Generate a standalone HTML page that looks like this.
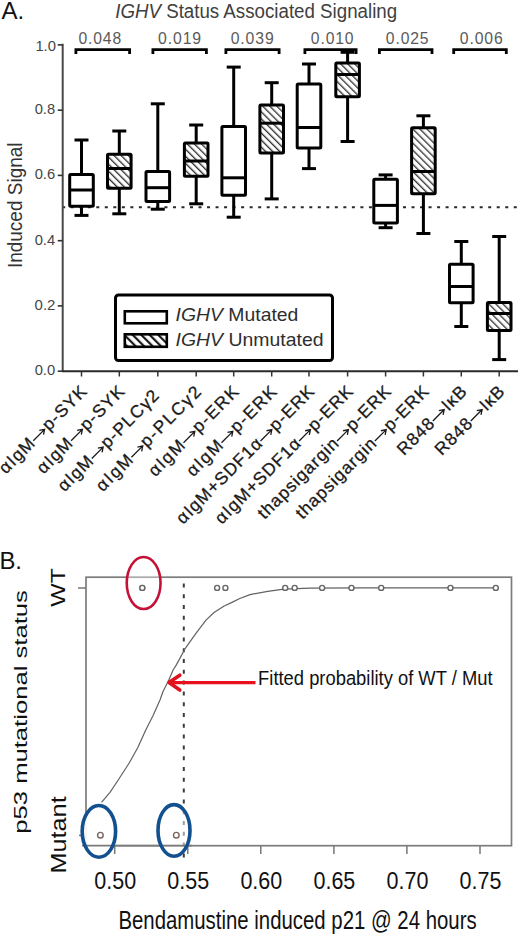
<!DOCTYPE html>
<html><head><meta charset="utf-8"><style>
html,body{margin:0;padding:0;background:#fff;}
svg{display:block;}
text{font-family:"Liberation Sans",sans-serif;}
</style></head><body>
<svg width="520" height="936" viewBox="0 0 520 936">
<rect width="520" height="936" fill="#fff"/>
<defs><pattern id="hat" patternUnits="userSpaceOnUse" width="5" height="5" patternTransform="rotate(-45)"><rect x="0" y="0" width="1.35" height="5" fill="#333"/></pattern><pattern id="hat2" patternUnits="userSpaceOnUse" width="6" height="6" patternTransform="rotate(-45)"><rect x="0" y="0" width="2.2" height="6" fill="#1a1a1a"/></pattern></defs>
<line x1="62.2" y1="207.2" x2="520" y2="207.2" stroke="#2a2a2a" stroke-width="2" stroke-dasharray="3 5.52"/>
<line x1="62.7" y1="43.8" x2="62.7" y2="372" stroke="#484848" stroke-width="2"/>
<line x1="62" y1="371.2" x2="518" y2="371.2" stroke="#2a2a2a" stroke-width="2"/>
<line x1="57.7" y1="371.2" x2="62.7" y2="371.2" stroke="#333" stroke-width="1.6"/>
<line x1="57.7" y1="305.9" x2="62.7" y2="305.9" stroke="#333" stroke-width="1.6"/>
<line x1="57.7" y1="240.7" x2="62.7" y2="240.7" stroke="#333" stroke-width="1.6"/>
<line x1="57.7" y1="175.4" x2="62.7" y2="175.4" stroke="#333" stroke-width="1.6"/>
<line x1="57.7" y1="110.2" x2="62.7" y2="110.2" stroke="#333" stroke-width="1.6"/>
<line x1="57.7" y1="44.9" x2="62.7" y2="44.9" stroke="#333" stroke-width="1.6"/>
<line x1="81.5" y1="371" x2="81.5" y2="376.5" stroke="#333" stroke-width="1.5"/>
<line x1="119.3" y1="371" x2="119.3" y2="376.5" stroke="#333" stroke-width="1.5"/>
<line x1="157.8" y1="371" x2="157.8" y2="376.5" stroke="#333" stroke-width="1.5"/>
<line x1="196.2" y1="371" x2="196.2" y2="376.5" stroke="#333" stroke-width="1.5"/>
<line x1="233.7" y1="371" x2="233.7" y2="376.5" stroke="#333" stroke-width="1.5"/>
<line x1="271.7" y1="371" x2="271.7" y2="376.5" stroke="#333" stroke-width="1.5"/>
<line x1="309.0" y1="371" x2="309.0" y2="376.5" stroke="#333" stroke-width="1.5"/>
<line x1="347.6" y1="371" x2="347.6" y2="376.5" stroke="#333" stroke-width="1.5"/>
<line x1="385.6" y1="371" x2="385.6" y2="376.5" stroke="#333" stroke-width="1.5"/>
<line x1="423.4" y1="371" x2="423.4" y2="376.5" stroke="#333" stroke-width="1.5"/>
<line x1="461.3" y1="371" x2="461.3" y2="376.5" stroke="#333" stroke-width="1.5"/>
<line x1="499.2" y1="371" x2="499.2" y2="376.5" stroke="#333" stroke-width="1.5"/>
<line x1="81.5" y1="140" x2="81.5" y2="174.6" stroke="#000" stroke-width="3.0"/>
<line x1="81.5" y1="206.2" x2="81.5" y2="215.4" stroke="#000" stroke-width="3.0"/>
<line x1="74.5" y1="140" x2="88.5" y2="140" stroke="#000" stroke-width="3.0"/>
<line x1="74.5" y1="215.4" x2="88.5" y2="215.4" stroke="#000" stroke-width="3.0"/>
<rect x="69.7" y="174.6" width="23.6" height="31.6" fill="#fff" stroke="#000" stroke-width="3.0" rx="1"/>
<line x1="69.7" y1="190" x2="93.3" y2="190" stroke="#000" stroke-width="3.0"/>
<line x1="119.3" y1="131" x2="119.3" y2="154.3" stroke="#000" stroke-width="3.0"/>
<line x1="119.3" y1="188.3" x2="119.3" y2="213.8" stroke="#000" stroke-width="3.0"/>
<line x1="112.3" y1="131" x2="126.3" y2="131" stroke="#000" stroke-width="3.0"/>
<line x1="112.3" y1="213.8" x2="126.3" y2="213.8" stroke="#000" stroke-width="3.0"/>
<rect x="107.5" y="154.3" width="23.6" height="34.0" fill="url(#hat)" stroke="#000" stroke-width="3.0" rx="1"/>
<line x1="107.5" y1="168.5" x2="131.1" y2="168.5" stroke="#000" stroke-width="3.0"/>
<line x1="157.8" y1="103.8" x2="157.8" y2="171.5" stroke="#000" stroke-width="3.0"/>
<line x1="157.8" y1="201.5" x2="157.8" y2="209.2" stroke="#000" stroke-width="3.0"/>
<line x1="150.8" y1="103.8" x2="164.8" y2="103.8" stroke="#000" stroke-width="3.0"/>
<line x1="150.8" y1="209.2" x2="164.8" y2="209.2" stroke="#000" stroke-width="3.0"/>
<rect x="146.0" y="171.5" width="23.6" height="30.0" fill="#fff" stroke="#000" stroke-width="3.0" rx="1"/>
<line x1="146.0" y1="187.7" x2="169.6" y2="187.7" stroke="#000" stroke-width="3.0"/>
<line x1="196.2" y1="125" x2="196.2" y2="143" stroke="#000" stroke-width="3.0"/>
<line x1="196.2" y1="176.2" x2="196.2" y2="203.8" stroke="#000" stroke-width="3.0"/>
<line x1="189.2" y1="125" x2="203.2" y2="125" stroke="#000" stroke-width="3.0"/>
<line x1="189.2" y1="203.8" x2="203.2" y2="203.8" stroke="#000" stroke-width="3.0"/>
<rect x="184.4" y="143" width="23.6" height="33.2" fill="url(#hat)" stroke="#000" stroke-width="3.0" rx="1"/>
<line x1="184.4" y1="161" x2="208.0" y2="161" stroke="#000" stroke-width="3.0"/>
<line x1="233.7" y1="67.1" x2="233.7" y2="126.4" stroke="#000" stroke-width="3.0"/>
<line x1="233.7" y1="195.2" x2="233.7" y2="217.2" stroke="#000" stroke-width="3.0"/>
<line x1="226.7" y1="67.1" x2="240.7" y2="67.1" stroke="#000" stroke-width="3.0"/>
<line x1="226.7" y1="217.2" x2="240.7" y2="217.2" stroke="#000" stroke-width="3.0"/>
<rect x="221.9" y="126.4" width="23.6" height="68.8" fill="#fff" stroke="#000" stroke-width="3.0" rx="1"/>
<line x1="221.9" y1="177.8" x2="245.5" y2="177.8" stroke="#000" stroke-width="3.0"/>
<line x1="271.7" y1="82.7" x2="271.7" y2="105.1" stroke="#000" stroke-width="3.0"/>
<line x1="271.7" y1="153.1" x2="271.7" y2="198.9" stroke="#000" stroke-width="3.0"/>
<line x1="264.7" y1="82.7" x2="278.7" y2="82.7" stroke="#000" stroke-width="3.0"/>
<line x1="264.7" y1="198.9" x2="278.7" y2="198.9" stroke="#000" stroke-width="3.0"/>
<rect x="259.9" y="105.1" width="23.6" height="48.0" fill="url(#hat)" stroke="#000" stroke-width="3.0" rx="1"/>
<line x1="259.9" y1="123.2" x2="283.5" y2="123.2" stroke="#000" stroke-width="3.0"/>
<line x1="309.0" y1="64" x2="309.0" y2="84" stroke="#000" stroke-width="3.0"/>
<line x1="309.0" y1="148.1" x2="309.0" y2="168.6" stroke="#000" stroke-width="3.0"/>
<line x1="302.0" y1="64" x2="316.0" y2="64" stroke="#000" stroke-width="3.0"/>
<line x1="302.0" y1="168.6" x2="316.0" y2="168.6" stroke="#000" stroke-width="3.0"/>
<rect x="297.2" y="84" width="23.6" height="64.1" fill="#fff" stroke="#000" stroke-width="3.0" rx="1"/>
<line x1="297.2" y1="127.5" x2="320.8" y2="127.5" stroke="#000" stroke-width="3.0"/>
<line x1="347.6" y1="52.3" x2="347.6" y2="63" stroke="#000" stroke-width="3.0"/>
<line x1="347.6" y1="96.7" x2="347.6" y2="141.5" stroke="#000" stroke-width="3.0"/>
<line x1="340.6" y1="52.3" x2="354.6" y2="52.3" stroke="#000" stroke-width="3.0"/>
<line x1="340.6" y1="141.5" x2="354.6" y2="141.5" stroke="#000" stroke-width="3.0"/>
<rect x="335.8" y="63" width="23.6" height="33.7" fill="url(#hat)" stroke="#000" stroke-width="3.0" rx="1"/>
<line x1="335.8" y1="74.5" x2="359.4" y2="74.5" stroke="#000" stroke-width="3.0"/>
<line x1="385.6" y1="174.9" x2="385.6" y2="179.2" stroke="#000" stroke-width="3.0"/>
<line x1="385.6" y1="223" x2="385.6" y2="227.7" stroke="#000" stroke-width="3.0"/>
<line x1="378.6" y1="174.9" x2="392.6" y2="174.9" stroke="#000" stroke-width="3.0"/>
<line x1="378.6" y1="227.7" x2="392.6" y2="227.7" stroke="#000" stroke-width="3.0"/>
<rect x="373.8" y="179.2" width="23.6" height="43.8" fill="#fff" stroke="#000" stroke-width="3.0" rx="1"/>
<line x1="373.8" y1="205.4" x2="397.4" y2="205.4" stroke="#000" stroke-width="3.0"/>
<line x1="423.4" y1="115.8" x2="423.4" y2="127.7" stroke="#000" stroke-width="3.0"/>
<line x1="423.4" y1="193.8" x2="423.4" y2="233.5" stroke="#000" stroke-width="3.0"/>
<line x1="416.4" y1="115.8" x2="430.4" y2="115.8" stroke="#000" stroke-width="3.0"/>
<line x1="416.4" y1="233.5" x2="430.4" y2="233.5" stroke="#000" stroke-width="3.0"/>
<rect x="411.6" y="127.7" width="23.6" height="66.1" fill="url(#hat)" stroke="#000" stroke-width="3.0" rx="1"/>
<line x1="411.6" y1="171.5" x2="435.2" y2="171.5" stroke="#000" stroke-width="3.0"/>
<line x1="461.3" y1="241.5" x2="461.3" y2="264.2" stroke="#000" stroke-width="3.0"/>
<line x1="461.3" y1="302.7" x2="461.3" y2="326.5" stroke="#000" stroke-width="3.0"/>
<line x1="454.3" y1="241.5" x2="468.3" y2="241.5" stroke="#000" stroke-width="3.0"/>
<line x1="454.3" y1="326.5" x2="468.3" y2="326.5" stroke="#000" stroke-width="3.0"/>
<rect x="449.5" y="264.2" width="23.6" height="38.5" fill="#fff" stroke="#000" stroke-width="3.0" rx="1"/>
<line x1="449.5" y1="286.5" x2="473.1" y2="286.5" stroke="#000" stroke-width="3.0"/>
<line x1="499.2" y1="236.5" x2="499.2" y2="302.4" stroke="#000" stroke-width="3.0"/>
<line x1="499.2" y1="330.4" x2="499.2" y2="359.6" stroke="#000" stroke-width="3.0"/>
<line x1="492.2" y1="236.5" x2="506.2" y2="236.5" stroke="#000" stroke-width="3.0"/>
<line x1="492.2" y1="359.6" x2="506.2" y2="359.6" stroke="#000" stroke-width="3.0"/>
<rect x="487.4" y="302.4" width="23.6" height="28.0" fill="url(#hat)" stroke="#000" stroke-width="3.0" rx="1"/>
<line x1="487.4" y1="313.5" x2="511.0" y2="313.5" stroke="#000" stroke-width="3.0"/>
<path d="M75.9,54 V49.6 H129.6 V54" fill="none" stroke="#000" stroke-width="2.8"/>
<g transform="translate(-7.98,-66.20) scale(1.0824,1.1000)"><text x="100" y="100" text-anchor="middle" font-size="14.5" fill="#5a5a5a" letter-spacing="0.8">0.048</text></g>
<path d="M152.9,54 V49.6 H206.4 V54" fill="none" stroke="#000" stroke-width="2.8"/>
<g transform="translate(71.10,-66.20) scale(1.0895,1.1000)"><text x="100" y="100" text-anchor="middle" font-size="14.5" fill="#5a5a5a" letter-spacing="0.8">0.019</text></g>
<path d="M225.9,54 V49.6 H279.1 V54" fill="none" stroke="#000" stroke-width="2.8"/>
<g transform="translate(143.70,-66.20) scale(1.0895,1.1000)"><text x="100" y="100" text-anchor="middle" font-size="14.5" fill="#5a5a5a" letter-spacing="0.8">0.039</text></g>
<path d="M304.9,54 V49.6 H356.1 V54" fill="none" stroke="#000" stroke-width="2.8"/>
<g transform="translate(224.42,-66.20) scale(1.0824,1.1000)"><text x="100" y="100" text-anchor="middle" font-size="14.5" fill="#5a5a5a" letter-spacing="0.8">0.010</text></g>
<path d="M379.4,54 V49.6 H432.0 V54" fill="none" stroke="#000" stroke-width="2.8"/>
<g transform="translate(299.42,-66.20) scale(1.0824,1.1000)"><text x="100" y="100" text-anchor="middle" font-size="14.5" fill="#5a5a5a" letter-spacing="0.8">0.025</text></g>
<path d="M453.7,54 V49.6 H506.3 V54" fill="none" stroke="#000" stroke-width="2.8"/>
<g transform="translate(372.75,-66.20) scale(1.0895,1.1000)"><text x="100" y="100" text-anchor="middle" font-size="14.5" fill="#5a5a5a" letter-spacing="0.8">0.006</text></g>
<g transform="translate(-53.62,-62.88) scale(1.0957,1.1368)"><text x="100" y="100" text-anchor="end" font-size="13.5" fill="#454545">1.0</text></g>
<g transform="translate(-54.15,5.15) scale(1.0930,1.0895)"><text x="100" y="100" text-anchor="end" font-size="13.5" fill="#454545">0.8</text></g>
<g transform="translate(-54.15,66.57) scale(1.0930,1.1263)"><text x="100" y="100" text-anchor="end" font-size="13.5" fill="#454545">0.6</text></g>
<g transform="translate(-54.15,130.92) scale(1.0930,1.1368)"><text x="100" y="100" text-anchor="end" font-size="13.5" fill="#454545">0.4</text></g>
<g transform="translate(-55.43,195.92) scale(1.1086,1.1368)"><text x="100" y="100" text-anchor="end" font-size="13.5" fill="#454545">0.2</text></g>
<g transform="translate(-54.15,260.46) scale(1.0930,1.1474)"><text x="100" y="100" text-anchor="end" font-size="13.5" fill="#454545">0.0</text></g>
<g transform="translate(-97.04,-18.31) scale(1.1937,1.1180)"><text transform="translate(100,200) rotate(-90)" text-anchor="middle" font-size="17" fill="#333">Induced Signal</text></g>
<g transform="translate(-8.89,-1.52) scale(1.0697,1.1508)"><text x="116" y="16.6" font-size="17.5" fill="#404040"><tspan font-style="italic">IGHV</tspan> Status Associated Signaling</text></g>
<g transform="translate(-0.24,-1.22) scale(1.0933,1.0820)"><text x="1.5" y="18.5" font-size="22" fill="#111">A.</text></g>
<rect x="115.5" y="295" width="217" height="65.5" rx="3" fill="#fff" stroke="#000" stroke-width="3"/>
<rect x="124.8" y="311.3" width="42" height="12" fill="#fff" stroke="#000" stroke-width="2.6"/>
<rect x="124.8" y="334.3" width="42" height="12.5" fill="url(#hat2)" stroke="#000" stroke-width="2.6"/>
<g transform="translate(-38.16,-61.77) scale(1.2111,1.1915)"><text x="176.5" y="321" font-size="16" fill="#2e2e2e"><tspan font-style="italic">IGHV</tspan> Mutated</text></g>
<g transform="translate(-38.86,-62.81) scale(1.2150,1.1830)"><text x="176.5" y="345.6" font-size="16" fill="#2e2e2e"><tspan font-style="italic">IGHV</tspan> Unmutated</text></g>
<g transform="translate(5.77,474.73) rotate(-45)" fill="#1a1a1a" stroke="#1a1a1a" stroke-width="0.3"><text x="0" y="0" font-size="17.5" letter-spacing="1.08">αIgM</text><path d="M43.5,-4.6 H58.5 M55.0,-7.6 L59.5,-4.6 L55.0,-1.6" fill="none" stroke="#1a1a1a" stroke-width="1.3"/><text x="61.0" y="0" font-size="17.5" letter-spacing="1.08">p-SYK</text></g>
<g transform="translate(43.57,474.73) rotate(-45)" fill="#1a1a1a" stroke="#1a1a1a" stroke-width="0.3"><text x="0" y="0" font-size="17.5" letter-spacing="1.08">αIgM</text><path d="M43.5,-4.6 H58.5 M55.0,-7.6 L59.5,-4.6 L55.0,-1.6" fill="none" stroke="#1a1a1a" stroke-width="1.3"/><text x="61.0" y="0" font-size="17.5" letter-spacing="1.08">p-SYK</text></g>
<g transform="translate(64.39,492.41) rotate(-45)" fill="#1a1a1a" stroke="#1a1a1a" stroke-width="0.3"><text x="0" y="0" font-size="17.5" letter-spacing="1.02">αIgM</text><path d="M43.4,-4.6 H58.4 M54.9,-7.6 L59.4,-4.6 L54.9,-1.6" fill="none" stroke="#1a1a1a" stroke-width="1.3"/><text x="60.9" y="0" font-size="17.5" letter-spacing="1.02"> p-PLCγ2</text></g>
<g transform="translate(102.79,492.41) rotate(-45)" fill="#1a1a1a" stroke="#1a1a1a" stroke-width="0.3"><text x="0" y="0" font-size="17.5" letter-spacing="1.61">αIgM</text><path d="M45.1,-4.6 H60.1 M56.6,-7.6 L61.1,-4.6 L56.6,-1.6" fill="none" stroke="#1a1a1a" stroke-width="1.3"/><text x="62.6" y="0" font-size="17.5" letter-spacing="1.61">p-PLCγ2</text></g>
<g transform="translate(155.14,477.56) rotate(-45)" fill="#1a1a1a" stroke="#1a1a1a" stroke-width="0.3"><text x="0" y="0" font-size="17.5" letter-spacing="1.46">αIgM</text><path d="M44.7,-4.6 H59.7 M56.2,-7.6 L60.7,-4.6 L56.2,-1.6" fill="none" stroke="#1a1a1a" stroke-width="1.3"/><text x="62.2" y="0" font-size="17.5" letter-spacing="1.46">p-ERK</text></g>
<g transform="translate(193.14,477.56) rotate(-45)" fill="#1a1a1a" stroke="#1a1a1a" stroke-width="0.3"><text x="0" y="0" font-size="17.5" letter-spacing="1.46">αIgM</text><path d="M44.7,-4.6 H59.7 M56.2,-7.6 L60.7,-4.6 L56.2,-1.6" fill="none" stroke="#1a1a1a" stroke-width="1.3"/><text x="62.2" y="0" font-size="17.5" letter-spacing="1.46">p-ERK</text></g>
<g transform="translate(183.07,524.93) rotate(-45)" fill="#1a1a1a" stroke="#1a1a1a" stroke-width="0.3"><text x="0" y="0" font-size="17.5" letter-spacing="0.97">αIgM+SDF1α</text><path d="M114.1,-4.6 H129.1 M125.6,-7.6 L130.1,-4.6 L125.6,-1.6" fill="none" stroke="#1a1a1a" stroke-width="1.3"/><text x="131.6" y="0" font-size="17.5" letter-spacing="0.97">p-ERK</text></g>
<g transform="translate(221.67,524.93) rotate(-45)" fill="#1a1a1a" stroke="#1a1a1a" stroke-width="0.3"><text x="0" y="0" font-size="17.5" letter-spacing="0.97">αIgM+SDF1α</text><path d="M114.1,-4.6 H129.1 M125.6,-7.6 L130.1,-4.6 L125.6,-1.6" fill="none" stroke="#1a1a1a" stroke-width="1.3"/><text x="131.6" y="0" font-size="17.5" letter-spacing="0.97">p-ERK</text></g>
<g transform="translate(264.61,519.99) rotate(-45)" fill="#1a1a1a" stroke="#1a1a1a" stroke-width="0.3"><text x="0" y="0" font-size="17.5" letter-spacing="0.98">thapsigargin</text><path d="M107.1,-4.6 H122.1 M118.6,-7.6 L123.1,-4.6 L118.6,-1.6" fill="none" stroke="#1a1a1a" stroke-width="1.3"/><text x="124.6" y="0" font-size="17.5" letter-spacing="0.98">p-ERK</text></g>
<g transform="translate(302.41,519.99) rotate(-45)" fill="#1a1a1a" stroke="#1a1a1a" stroke-width="0.3"><text x="0" y="0" font-size="17.5" letter-spacing="0.98">thapsigargin</text><path d="M107.1,-4.6 H122.1 M118.6,-7.6 L123.1,-4.6 L118.6,-1.6" fill="none" stroke="#1a1a1a" stroke-width="1.3"/><text x="124.6" y="0" font-size="17.5" letter-spacing="0.98">p-ERK</text></g>
<g transform="translate(403.95,456.35) rotate(-45)" fill="#1a1a1a" stroke="#1a1a1a" stroke-width="0.3"><text x="0" y="0" font-size="17.5" letter-spacing="0.90">R848</text><path d="M45.5,-4.6 H60.5 M57.0,-7.6 L61.5,-4.6 L57.0,-1.6" fill="none" stroke="#1a1a1a" stroke-width="1.3"/><text x="63.0" y="0" font-size="17.5" letter-spacing="0.90">IκB</text></g>
<g transform="translate(441.85,456.35) rotate(-45)" fill="#1a1a1a" stroke="#1a1a1a" stroke-width="0.3"><text x="0" y="0" font-size="17.5" letter-spacing="0.90">R848</text><path d="M45.5,-4.6 H60.5 M57.0,-7.6 L61.5,-4.6 L57.0,-1.6" fill="none" stroke="#1a1a1a" stroke-width="1.3"/><text x="63.0" y="0" font-size="17.5" letter-spacing="0.90">IκB</text></g>
<g transform="translate(-2.30,-97.91) scale(1.1385,1.1724)"><text x="1.5" y="568.7" font-size="21" fill="#111">B.</text></g>
<rect x="86" y="577.2" width="425.5" height="268.5" fill="none" stroke="#7c7c7c" stroke-width="1.7"/>
<line x1="78" y1="588" x2="86" y2="588" stroke="#777" stroke-width="1.5"/>
<line x1="79" y1="835.4" x2="86" y2="835.4" stroke="#777" stroke-width="1.5"/>
<line x1="114.7" y1="845.7" x2="114.7" y2="854" stroke="#777" stroke-width="1.5"/>
<g transform="translate(-84.80,-119.70) scale(1.0000,1.1344)"><text x="200" y="888.8" text-anchor="middle" font-size="21.5" fill="#111">0.50</text></g>
<line x1="187.8" y1="845.7" x2="187.8" y2="854" stroke="#777" stroke-width="1.5"/>
<g transform="translate(-11.74,-119.70) scale(1.0000,1.1344)"><text x="200" y="888.8" text-anchor="middle" font-size="21.5" fill="#111">0.55</text></g>
<line x1="260.8" y1="845.7" x2="260.8" y2="854" stroke="#777" stroke-width="1.5"/>
<g transform="translate(61.32,-119.70) scale(1.0000,1.1344)"><text x="200" y="888.8" text-anchor="middle" font-size="21.5" fill="#111">0.60</text></g>
<line x1="333.9" y1="845.7" x2="333.9" y2="854" stroke="#777" stroke-width="1.5"/>
<g transform="translate(134.38,-119.70) scale(1.0000,1.1344)"><text x="200" y="888.8" text-anchor="middle" font-size="21.5" fill="#111">0.65</text></g>
<line x1="406.9" y1="845.7" x2="406.9" y2="854" stroke="#777" stroke-width="1.5"/>
<g transform="translate(207.44,-119.70) scale(1.0000,1.1344)"><text x="200" y="888.8" text-anchor="middle" font-size="21.5" fill="#111">0.70</text></g>
<line x1="480.0" y1="845.7" x2="480.0" y2="854" stroke="#777" stroke-width="1.5"/>
<g transform="translate(280.50,-119.70) scale(1.0000,1.1344)"><text x="200" y="888.8" text-anchor="middle" font-size="21.5" fill="#111">0.75</text></g>
<line x1="183.8" y1="583.4" x2="183.8" y2="864" stroke="#3c3c3c" stroke-width="2" stroke-dasharray="4 6.8"/>
<path d="M101.5,802.3 L110,792.3 L119.2,778.5 L129.2,763 L137.7,747.7 L145.4,730.8 L153.1,715.4 L160,700 L162.7,692.3 L168.8,680 L173.1,670 L176.5,664.6 L184.8,649.2 L195.2,634.4 L206,620.1 L214,612.5 L224.2,606 L232,602.4 L239.2,598.8 L250,594.6 L267.7,591.3 L283.8,589.2 L310,588.2 L360,587.9 L495.8,587.9" fill="none" stroke="#626262" stroke-width="1.2" stroke-linejoin="round"/>
<circle cx="142.3" cy="587.9" r="2.5" fill="#fff" stroke="#666" stroke-width="1.4"/>
<circle cx="217.1" cy="587.9" r="2.5" fill="#fff" stroke="#666" stroke-width="1.4"/>
<circle cx="225.4" cy="587.9" r="2.5" fill="#fff" stroke="#666" stroke-width="1.4"/>
<circle cx="285.2" cy="587.9" r="2.5" fill="#fff" stroke="#666" stroke-width="1.4"/>
<circle cx="294.7" cy="587.9" r="2.5" fill="#fff" stroke="#666" stroke-width="1.4"/>
<circle cx="322.1" cy="587.9" r="2.5" fill="#fff" stroke="#666" stroke-width="1.4"/>
<circle cx="351.5" cy="587.9" r="2.5" fill="#fff" stroke="#666" stroke-width="1.4"/>
<circle cx="381.2" cy="587.9" r="2.5" fill="#fff" stroke="#666" stroke-width="1.4"/>
<circle cx="450.5" cy="587.9" r="2.5" fill="#fff" stroke="#666" stroke-width="1.4"/>
<circle cx="495.8" cy="587.9" r="2.5" fill="#fff" stroke="#666" stroke-width="1.4"/>
<ellipse cx="143.65" cy="583.05" rx="16.9" ry="26" fill="#fff" fill-opacity="0.35" stroke="#c41236" stroke-width="2.6"/>
<circle cx="142.3" cy="587.9" r="2.5" fill="#fff" stroke="#666" stroke-width="1.4"/>
<ellipse cx="98.9" cy="831.35" rx="16.7" ry="25.85" fill="#fff" fill-opacity="0.92"/>
<ellipse cx="174" cy="830.4" rx="16" ry="25.8" fill="#fff" fill-opacity="0.5"/>
<line x1="82" y1="845.7" x2="192" y2="845.7" stroke="#7c7c7c" stroke-width="1.7"/>
<ellipse cx="98.9" cy="831.35" rx="16.7" ry="25.85" fill="none" stroke="#13508f" stroke-width="3.6"/>
<ellipse cx="174" cy="830.4" rx="16" ry="25.8" fill="none" stroke="#13508f" stroke-width="3.6"/>
<circle cx="100.4" cy="835.2" r="2.8" fill="#fff" stroke="#7a6660" stroke-width="1.4"/>
<circle cx="176.3" cy="835.2" r="2.8" fill="#fff" stroke="#7a6660" stroke-width="1.4"/>
<line x1="255.5" y1="682.6" x2="172" y2="682.6" stroke="#e8101c" stroke-width="3.2"/>
<path d="M179.8,675.2 L169,682.6 L179.8,690" fill="none" stroke="#e0101c" stroke-width="3.6" stroke-linejoin="round" stroke-linecap="round"/>
<g transform="translate(0.88,-89.59) scale(0.9932,1.1304)"><text x="259" y="685" font-size="18.5" fill="#111">Fitted probability of WT / Mut</text></g>
<g transform="translate(-3.05,-142.70) scale(1.0473,1.2426)"><text transform="translate(64.5,587.6) rotate(-90)" text-anchor="middle" font-size="20" fill="#111">WT</text></g>
<g transform="translate(-2.90,-146.32) scale(1.0400,1.1766)"><text transform="translate(66,834) rotate(-90)" text-anchor="middle" font-size="21.5" fill="#111">Mutant</text></g>
<g transform="translate(1.35,-135.87) scale(0.8900,1.1916)"><text transform="translate(28.3,711.5) rotate(-90)" text-anchor="middle" font-size="21.5" fill="#111">p53 mutational status</text></g>
<g transform="translate(7.20,-153.72) scale(0.9265,1.1659)"><text x="120" y="929" font-size="22" fill="#111">Bendamustine induced p21 @ 24 hours</text></g>
</svg></body></html>
